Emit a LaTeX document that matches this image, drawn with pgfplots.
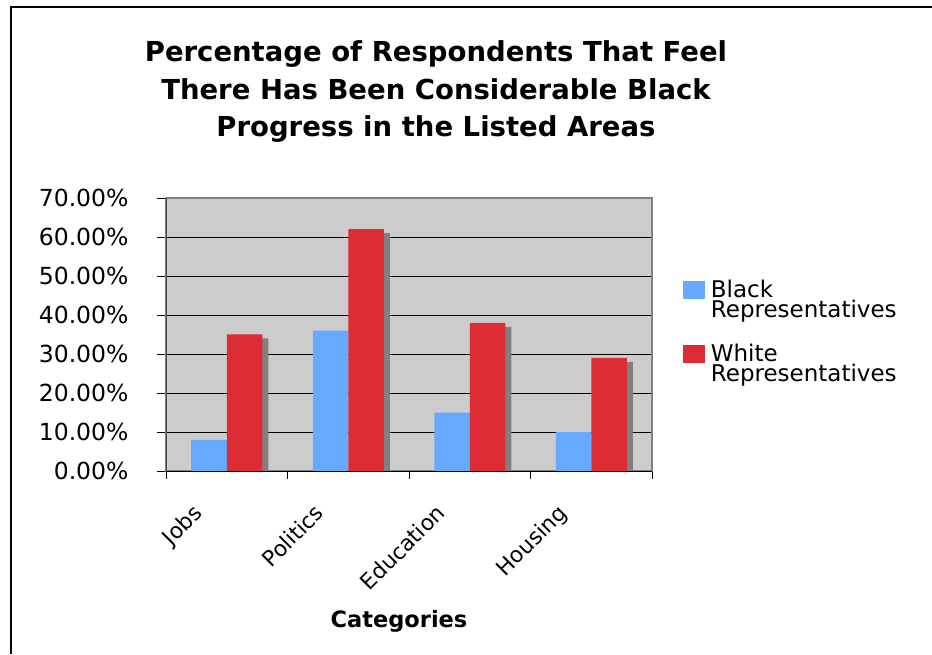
\documentclass[border=0pt]{standalone}
\usepackage{fontspec}
\setmainfont{DejaVu Sans}
\usepackage{pgfplots}
\pgfplotsset{compat=1.18}

\definecolor{barblue}{HTML}{66AAFF}
\definecolor{barred}{HTML}{DD2C34}
\definecolor{plotbg}{HTML}{CCCCCC}
\definecolor{shadowgray}{HTML}{808080}

% Share of respondents (percent) per area
\pgfplotstableread{
x  black white
0  8     35
1  36    62
2  15    38
3  10    29
}\progress

\begin{document}
\begin{tikzpicture}[x=1pt,y=1pt]
\path[use as bounding box] (0,0) rectangle (932,654);
\draw[line width=2pt] (11,0) -- (11,647) -- (932,647);

\begin{scope}[every node/.style={anchor=base, font=\bfseries\fontsize{27.5}{32}\selectfont}]
\node at (436,592.3) {Percentage of Respondents That Feel};
\node at (436,554) {There Has Been Considerable Black};
\node at (436,517) {Progress in the Listed Areas};
\end{scope}

\begin{axis}[
  at={(166pt,183pt)}, anchor=south west,
  scale only axis, width=486pt, height=273pt,
  xmin=-0.5, xmax=3.5, ymin=0, ymax=70,
  axis background/.style={fill=plotbg},
  axis line style={draw=shadowgray, line width=1.5pt},
  ybar, bar width=35.5pt,
  tick align=outside, tick pos=left,
  xtick={0,1,2,3},
  xticklabels={Jobs,Politics,Education,Housing},
  major x tick style={draw=none},
  minor xtick={-0.5,0.5,1.5,2.5,3.5},
  minor x tick style={black, line width=0.8pt},
  minor tick length=8pt,
  ytick={0,10,...,70},
  major y tick style={black, line width=0.8pt},
  major tick length=9pt,
  ymajorgrids,
  grid style={black, line width=0.8pt},
  /pgf/number format/assume math mode=true,
  yticklabel={\pgfmathprintnumber[fixed,fixed zerofill,precision=2]{\tick}\%},
  yticklabel style={font=\fontsize{23.5}{28}\selectfont, anchor=east, xshift=-25pt},
  xticklabel style={font=\fontsize{21.8}{26}\selectfont, xshift=-35pt, yshift=-18pt, rotate=45, anchor=north east},
  legend style={at={(1.057,0.715)}, anchor=north west, draw=none, fill=none,
    font=\fontsize{23}{20}\selectfont, row sep=21pt,
    cells={anchor=west, align=left}},
  legend image code/.code={\fill[#1, draw=none] (0pt,0pt) rectangle (22pt,18pt); \path (26pt,0pt);},
]
\addplot[fill=barblue, draw=none, bar shift=-17.75pt] table[x=x, y=black] {\progress};
\addlegendentry{Black\\Representatives}
\addplot[fill=shadowgray, draw=none, bar shift=17.75pt, xshift=6pt, yshift=-4pt, forget plot] table[x=x, y=white] {\progress};
\addplot[fill=barred, draw=none, bar shift=17.75pt] table[x=x, y=white] {\progress};
\addlegendentry{White\\Representatives}
\draw[black, line width=1pt] (rel axis cs:0,0) -- (rel axis cs:1,0);
\draw[black!70, line width=1.2pt] (rel axis cs:0,0) -- (rel axis cs:0,1);
\end{axis}

\node[anchor=base, font=\bfseries\fontsize{22.5}{26}\selectfont] at (399,27) {Categories};
\end{tikzpicture}
\end{document}
